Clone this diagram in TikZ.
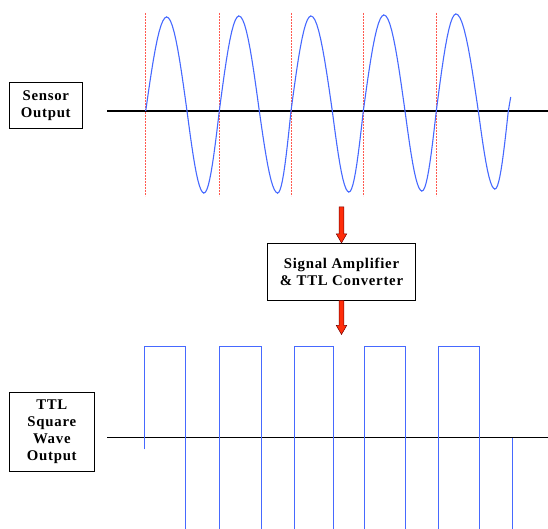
\documentclass[tikz,border=0pt]{standalone}
\usepackage{fontspec}
\newfontfamily\lblfont[LetterSpace=5]{Liberation Serif}
\usetikzlibrary{calc}
\definecolor{sigblue}{RGB}{70,105,255}
\definecolor{marker}{RGB}{255,90,80}
\definecolor{arrred}{RGB}{255,45,10}

\tikzset{
  lbl/.style={draw,line width=0.8pt,align=center,inner sep=0pt,
    font=\lblfont\bfseries\fontsize{14.8}{17}\selectfont},
  wave/.style={sigblue,line width=1.1pt},
  axisline/.style={black,line width=1.1pt},
  markline/.style={marker,line width=1.2pt,dash pattern=on 2pt off 1pt}
}

% fat red arrow from #1 down to #2
\newcommand{\fatarrow}[2]{%
  \filldraw[fill=arrred,draw=black!55!red,line width=0.5pt]
    ($(#1)+(-2.4,0)$) -- ($(#2)+(-2.4,-9)$) -- ($(#2)+(-5.2,-9)$) -- (#2)
    -- ($(#2)+(5.2,-9)$) -- ($(#2)+(2.4,-9)$) -- ($(#1)+(2.4,0)$) -- cycle;}

\begin{document}
\begin{tikzpicture}[x=1pt,y=-1pt]
  \useasboundingbox (0,0) rectangle (548,529);

  % labels
  \node[lbl,minimum width=73,minimum height=46] (sensor) at (45.8,105.3) {Sensor\\Output};
  \node[lbl,minimum width=85,minimum height=79] (ttl) at (51.8,432.2) {TTL\\Square\\Wave\\Output};
  \node[lbl,minimum width=148.4,minimum height=56.7] (sig) at (341.5,271.7) {Signal Amplifier\\\& TTL Converter};

  % arrows in and out of the converter
  \coordinate (in) at ($(sig.north)+(0,-36)$);
  \coordinate (out) at ($(sig.south)+(0,34)$);
  \fatarrow{in}{sig.north}
  \fatarrow{sig.south}{out}

  % sensor output
  \draw[axisline] (107,111) -- (548,111);
  \foreach \m in {145.5,219.5,291.5,363.5,436.5}
    \draw[markline] (\m,13) -- (\m,196);
  \foreach \a/\b/\c/\d/\e/\p/\t in {145.7/166.7/187/204/219.3/94/82,
      219.3/239/259.3/277.7/291/95/82, 291/311/332.3/349/363.3/95/81,
      363.3/384/405/422/436.3/96/80, 436.3/456/478.3/495/508.3/97/78}
    \draw[wave] plot[domain=0:90,samples=12] ({\a+(\b-\a)*\x/90},{111-\p*sin(\x)})
      -- plot[domain=90:180,samples=12] ({\b+(\c-\b)*(\x-90)/90},{111-\p*sin(\x)})
      -- plot[domain=180:270,samples=12] ({\c+(\d-\c)*(\x-180)/90},{111-\t*sin(\x)})
      -- plot[domain=270:360,samples=12] ({\d+(\e-\d)*(\x-270)/90},{111-\t*sin(\x)});
  \draw[wave] (508.3,111) -- (510.7,97);

  % square wave output
  \draw[axisline] (107,437.7) -- (548,437.7);
  \draw[wave,line width=0.9pt] (144.3,449.3) -- (144.3,346.7) -- (185.7,346.7) -- (185.7,529);
  \foreach \u/\v in {219.7/261,294.7/333,364/405,438.3/479.3}
    \draw[wave,line width=0.9pt] (\u,529) -- (\u,346.7) -- (\v,346.7) -- (\v,529);
  \draw[wave,line width=0.9pt] (512.7,437.7) -- (512.7,529);
\end{tikzpicture}
\end{document}
